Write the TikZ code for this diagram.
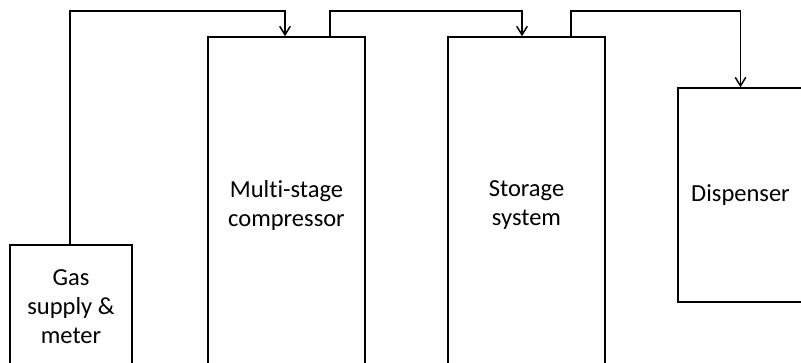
\documentclass[tikz,border=0pt]{standalone}
\usepackage{fontspec}
\setmainfont[Ligatures=NoCommon]{Carlito}
\usetikzlibrary{arrows.meta}
\begin{document}
\begin{tikzpicture}[x=1pt,y=-1pt,
  box/.style={draw, line width=1.5pt, rectangle, inner sep=0pt, align=center,
    font=\fontsize{24.5}{29}\selectfont},
  flow/.style={draw, line width=1.5pt, -{Straight Barb[length=8.5pt,width=10.5pt,line width=1.5pt]}}]
\useasboundingbox (0,0) rectangle (801,363);
\clip (0,0) rectangle (801,363);
\node[box, minimum width=122pt, minimum height=124pt] (gas) at (71,307) {Gas\\supply \&\\meter};
\node[box, minimum width=157pt, minimum height=336pt] (comp) at (286.5,205) {Multi-stage\\compressor};
\node[box, minimum width=157pt, minimum height=336pt] (stor) at (526.5,205) {Storage\\system};
\node[box, minimum width=125pt, minimum height=214pt] (disp) at (740.5,195) {\raisebox{-2.5pt}{Dispenser}};
\draw[flow] ([xshift=-1pt]gas.north) -- ++(0,-233) -| ([xshift=-1.5pt]comp.north);
\draw[flow] ([xshift=43.5pt]comp.north) -- ++(0,-25) -| ([xshift=-4.5pt]stor.north);
\draw[flow] ([xshift=44.5pt]stor.north) -- ++(0,-25) -| (disp.north);
\end{tikzpicture}
\end{document}
